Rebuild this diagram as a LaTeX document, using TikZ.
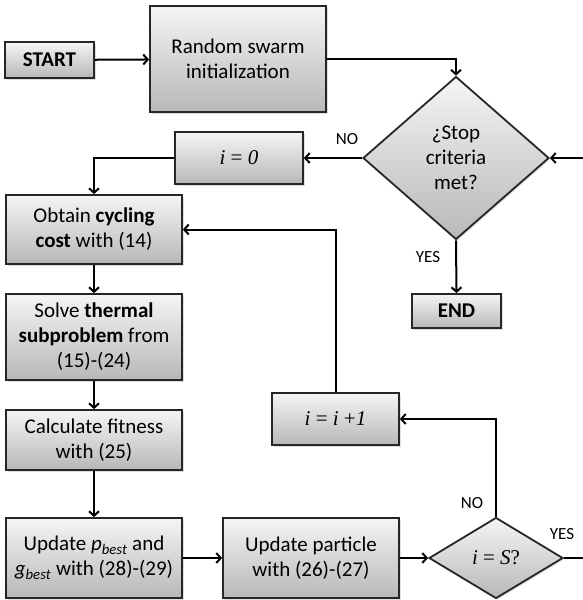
\documentclass[tikz,border=0pt]{standalone}
\usepackage{fontspec}
\setmainfont{Carlito}
\newfontfamily\eqfont{Liberation Serif}
\usetikzlibrary{shapes.geometric,arrows.meta,shadows}

\begin{document}
\begin{tikzpicture}[x=1pt,y=-1pt,
  every node/.style={font=\fontsize{21}{25}\selectfont, align=center, inner sep=0pt},
  block/.style={draw=black!85, line width=1.8pt, top color=black!4, bottom color=black!28,
    drop shadow={opacity=0.25, shadow xshift=1.5pt, shadow yshift=-1.5pt}},
  decision/.style={block, diamond},
  tag/.style={font=\fontsize{17}{20}\selectfont},
  flow/.style={line width=2pt, -{Straight Barb[length=4.5pt,width=10pt]}}
]
\useasboundingbox (0,0) rectangle (582,600);
% blocks
\node [block, minimum width=89, minimum height=36] (start) at (49.5,60) {\textbf{START}};
\node [block, minimum width=176, minimum height=106] (init) at (238,59) {Random swarm\\initialization};
\node [decision, minimum width=186, minimum height=163] (stop) at (456,158) {¿Stop\\criteria\\met?};
\node [block, minimum width=89, minimum height=34] (end) at (456.5,311) {\textbf{END}};
\node [block, minimum width=128, minimum height=52] (izero) at (239,158) {\eqfont\textit{i} = \textit{0}};
\node [block, minimum width=176, minimum height=69] (obtain) at (94,229.5) {Obtain \textbf{cycling}\\\textbf{cost} with (14)};
\node [block, minimum width=176, minimum height=86] (solve) at (94,337) {Solve \textbf{thermal}\\\textbf{subproblem} from\\(15)-(24)};
\node [block, minimum width=176, minimum height=60] (fitness) at (94,440) {Calculate fitness\\with (25)};
\node [block, minimum width=176, minimum height=80] (best) at (94,558) {Update \textit{p}\textsubscript{\textit{best}} and\\\textit{g}\textsubscript{\textit{best}} with (28)-(29)};
\node [block, minimum width=176, minimum height=80] (particle) at (311,558) {Update particle\\with (26)-(27)};
\node [block, minimum width=127, minimum height=52] (inc) at (335.5,419) {\eqfont\textit{i} = \textit{i} +\textit{1}};
\node [decision, minimum width=134, minimum height=81] (last) at (496,558) {\eqfont\textit{i} = \textit{S}?};
\coordinate (rt) at (584,558);
% connectors
\draw [flow] (start) -- (init);
\draw [flow] (init.east) -| (stop.north);
\draw [flow] (stop.west) -- (izero.east);
\draw [flow] (izero.west) -| (obtain.north);
\draw [flow] (stop.south) -- (end.north);
\draw [flow] (obtain) -- (solve);
\draw [flow] (solve) -- (fitness);
\draw [flow] (fitness) -- (best);
\draw [flow] (best) -- (particle);
\draw [flow] (particle) -- (last.west);
\draw [flow] (last.north) |- (inc.east);
\draw [flow] (inc.north) |- (obtain.east);
\draw [flow] (last.east) -- (rt) |- (stop.east);
% labels
\node [tag] (no1) at (347,139) {NO};
\node [tag] (yes1) at (428,257) {YES};
\node [tag] (no2) at (472,503) {NO};
\node [tag] (yes2) at (562,534) {YES};
\end{tikzpicture}
\end{document}
